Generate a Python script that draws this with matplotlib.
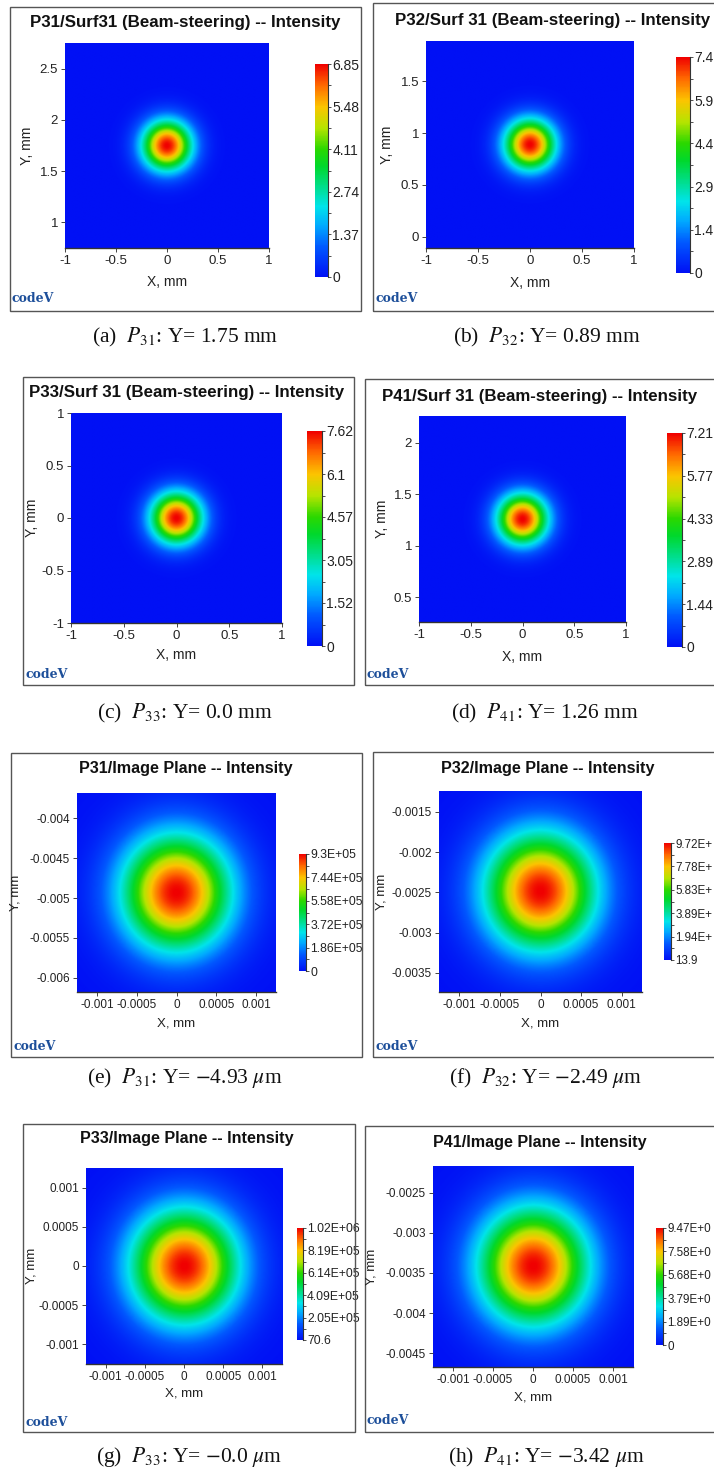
import numpy as np
import matplotlib.pyplot as plt
from matplotlib.colors import LinearSegmentedColormap
from matplotlib.patches import Rectangle
from matplotlib.ticker import FixedLocator, FuncFormatter

plt.rcParams['font.family'] = ['Liberation Sans', 'DejaVu Sans']
plt.rcParams['mathtext.fontset'] = 'stix'

W, H = 714, 1471

# ---- data ----
titles = ["P31/Surf31 (Beam-steering) -- Intensity",
          "P32/Surf 31 (Beam-steering) -- Intensity",
          "P33/Surf 31 (Beam-steering) -- Intensity",
          "P41/Surf 31 (Beam-steering) -- Intensity",
          "P31/Image Plane -- Intensity",
          "P32/Image Plane -- Intensity",
          "P33/Image Plane -- Intensity",
          "P41/Image Plane -- Intensity"]
captions = [r"(a)  $P_{31}$: Y= 1.75 mm",
            r"(b)  $P_{32}$: Y= 0.89 mm",
            r"(c)  $P_{33}$: Y= 0.0 mm",
            r"(d)  $P_{41}$: Y= 1.26 mm",
            r"(e)  $P_{31}$: Y= $-$4.93 $\mu$m",
            r"(f)  $P_{32}$: Y= $-$2.49 $\mu$m",
            r"(g)  $P_{33}$: Y= $-$0.0 $\mu$m",
            r"(h)  $P_{41}$: Y= $-$3.42 $\mu$m"]
# beam centre (Y, mm), half window, peak and floor intensity, beam widths
y_centers = [1.75, 0.89, 0.0, 1.26, -0.00493, -0.00249, 0.0, -0.00342]
half_win = [1.0, 1.0, 1.0, 1.0, 0.00125, 0.00125, 0.00125, 0.00125]
peaks = [6.85, 7.42, 7.62, 7.21, 9.3e5, 9.72e5, 1.02e6, 9.47e5]
floors = [0, 0, 0, 0, 0, 13.9, 70.6, 0]
sigma_x = [0.172, 0.172, 0.172, 0.172, 0.00048, 0.00048, 0.00048, 0.00048]
sigma_y = [0.172, 0.172, 0.172, 0.172, 0.00051, 0.00051, 0.00051, 0.00051]
# colourbar labels as they show (panels b, f, h are cut by the page edge)
cbar_labels = [["0", "1.37", "2.74", "4.11", "5.48", "6.85"],
               ["0", "1.4", "2.9", "4.4", "5.9", "7.4"],
               ["0", "1.52", "3.05", "4.57", "6.1", "7.62"],
               ["0", "1.44", "2.89", "4.33", "5.77", "7.21"],
               ["0", "1.86E+05", "3.72E+05", "5.58E+05", "7.44E+05", "9.3E+05"],
               ["13.9", "1.94E+", "3.89E+", "5.83E+", "7.78E+", "9.72E+"],
               ["70.6", "2.05E+05", "4.09E+05", "6.14E+05", "8.19E+05", "1.02E+06"],
               ["0", "1.89E+0", "3.79E+0", "5.68E+0", "7.58E+0", "9.47E+0"]]
cbar_fontsize = [10, 10, 10, 10, 8.8, 8.4, 8.8, 8.4]
xticks_surf = [-1, -0.5, 0, 0.5, 1]
xticks_img = [-0.001, -0.0005, 0, 0.0005, 0.001]
yticks = [[1, 1.5, 2, 2.5],
          [0, 0.5, 1, 1.5],
          [-1, -0.5, 0, 0.5, 1],
          [0.5, 1, 1.5, 2],
          [-0.006, -0.0055, -0.005, -0.0045, -0.004],
          [-0.0035, -0.003, -0.0025, -0.002, -0.0015],
          [-0.001, -0.0005, 0, 0.0005, 0.001],
          [-0.0045, -0.004, -0.0035, -0.003, -0.0025]]

# ---- layout in pixels ----
boxes = [(10, 7, 361, 311), (373, 3, 722, 311),
         (23, 377, 354, 685), (365, 379, 722, 685),
         (11, 753, 362, 1057), (373, 752, 722, 1057),
         (23, 1124, 355, 1432), (365, 1126, 722, 1432)]
axes_px = [(65, 43, 269, 248), (426, 41, 634, 248),
           (71, 413, 282, 623), (419, 416, 626, 622),
           (77, 793, 276, 992), (439, 791, 642, 992),
           (86, 1168, 282, 1364), (433, 1166, 633, 1367)]
cbar_px = [(315, 64, 328, 277), (676, 57, 690, 273),
           (307, 431, 322, 646), (667, 433, 682, 647),
           (299, 854, 306, 971), (664, 843, 671, 960),
           (297, 1228, 303, 1340), (656, 1228, 663, 1345)]
ylabel_x = [27, 387, 32, 382, 15, 382, 32, 372]
xlabel_y = [282, 283, 655, 657, 1024, 1024, 1393, 1398]
title_xy = [(185, 23), (553, 20), (187, 393), (540, 396),
            (186, 769), (548, 768), (187, 1139), (540, 1143)]
logo_xy = [(12, 299), (375, 299), (25, 675), (367, 675),
           (13, 1046), (375, 1046), (25, 1422), (367, 1421)]
caption_xy = [(185, 337), (547, 337), (185, 713), (545, 713),
              (185, 1078), (546, 1078), (189, 1457), (546, 1457)]

cmap = LinearSegmentedColormap.from_list("codev", [
    (0.0, '#0010f5'), (0.14, '#0058ff'), (0.24, '#00aaff'), (0.33, '#00e4ea'),
    (0.42, '#00de8e'), (0.52, '#00d82c'), (0.6, '#2ad800'), (0.7, '#b6e400'),
    (0.8, '#fcc400'), (0.9, '#ff6a00'), (1.0, '#f00000')])


def rect(x0, y0, x1, y1):
    return [x0 / W, 1 - y1 / H, (x1 - x0) / W, (y1 - y0) / H]


def fmt(v, pos=None):
    if abs(v) < 1e-12:
        return "0"
    return "%g" % v


fig = plt.figure(figsize=(W / 100, H / 100), dpi=100)

for i in range(8):
    image_plane = i >= 4
    bx0, by0, bx1, by1 = boxes[i]
    fig.patches.append(Rectangle((bx0 / W, 1 - by1 / H), (bx1 - bx0) / W, (by1 - by0) / H,
                                 transform=fig.transFigure, fill=False,
                                 edgecolor='#555555', linewidth=1.0))

    hw = half_win[i]
    yc = y_centers[i]
    x = np.linspace(-hw, hw, 300)
    y = np.linspace(yc - hw, yc + hw, 300)
    X, Y = np.meshgrid(x, y)
    Z = floors[i] + (peaks[i] - floors[i]) * np.exp(
        -(X ** 2 / (2 * sigma_x[i] ** 2) + (Y - yc) ** 2 / (2 * sigma_y[i] ** 2)))

    ax = fig.add_axes(rect(*axes_px[i]))
    im = ax.imshow(Z, origin='lower', extent=[-hw, hw, yc - hw, yc + hw],
                   cmap=cmap, vmin=floors[i], vmax=peaks[i],
                   interpolation='bilinear', aspect='auto')
    ax.set_xlim(-hw, hw)
    ax.set_ylim(yc - hw, yc + hw)
    ax.set_xticks(xticks_img if image_plane else xticks_surf)
    ax.set_yticks(yticks[i])
    ax.xaxis.set_major_formatter(FuncFormatter(fmt))
    ax.yaxis.set_major_formatter(FuncFormatter(fmt))
    tsize = 8.5 if image_plane else 9.5
    ax.tick_params(direction='out', length=3, width=0.7, color='#444444',
                   labelcolor='#222222', labelsize=tsize, pad=2)
    for s in ['top', 'right', 'left']:
        ax.spines[s].set_visible(False)
    ax.spines['bottom'].set_color('#333333')
    ax.spines['bottom'].set_linewidth(1.0)

    lsize = 9.5 if image_plane else 10
    fig.text(ylabel_x[i] / W, 1 - ((axes_px[i][1] + axes_px[i][3]) / 2) / H, "Y, mm",
             rotation=90, ha='center', va='center', fontsize=lsize, color='#222222')
    fig.text(((axes_px[i][0] + axes_px[i][2]) / 2) / W, 1 - xlabel_y[i] / H, "X, mm",
             ha='center', va='center', fontsize=lsize, color='#222222')
    fig.text(title_xy[i][0] / W, 1 - title_xy[i][1] / H, titles[i],
             ha='center', va='center', fontsize=12.2 if not image_plane else 11.6,
             fontweight='bold', color='#111111')
    fig.text(logo_xy[i][0] / W, 1 - logo_xy[i][1] / H, "codeV",
             ha='left', va='center', fontsize=9, fontweight='bold',
             family='DejaVu Serif', color='#1d4f9a')
    fig.text(caption_xy[i][0] / W, 1 - caption_xy[i][1] / H, captions[i],
             ha='center', va='center', fontsize=15.5, family='Liberation Serif',
             color='#111111')

    cax = fig.add_axes(rect(*cbar_px[i]))
    cb = fig.colorbar(im, cax=cax)
    cb.outline.set_visible(False)
    ticks = np.linspace(floors[i], peaks[i], 6)
    cb.set_ticks(ticks)
    cb.set_ticklabels(cbar_labels[i])
    cax.yaxis.set_minor_locator(FixedLocator((ticks[:-1] + ticks[1:]) / 2))
    cax.tick_params(which='both', direction='out', length=2.5, width=0.6,
                    color='#333333', labelcolor='#222222',
                    labelsize=cbar_fontsize[i], pad=0.5)
    cax.plot([1, 1], [0, 1], transform=cax.transAxes, color='#333333',
             linewidth=0.8, clip_on=False)

fig.savefig("out.png", dpi=100, facecolor='white')
